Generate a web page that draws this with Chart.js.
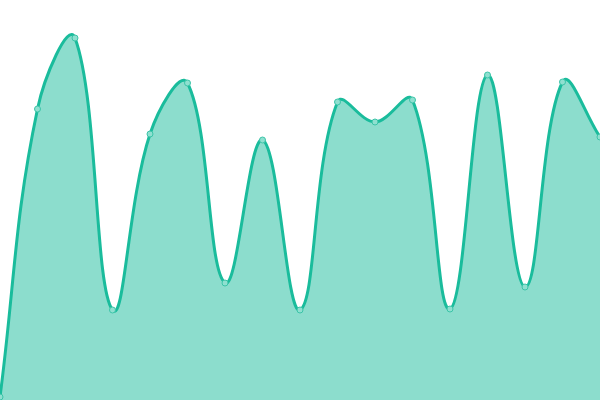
<!DOCTYPE html>
<html>
<head>
<meta charset="utf-8">
<script src="https://cdn.jsdelivr.net/npm/chart.js@4"></script>
<style>
html,body{margin:0;padding:0;background:#fff;}
#wrap{width:600px;height:400px;}
</style>
</head>
<body>
<div id="wrap"><canvas id="c"></canvas></div>
<script>
const categories = ["1","2","3","4","5","6","7","8","9","10","11","12","13","14","15","16","17"];
const seriesValues = [3, 291, 362, 90, 266, 317, 117, 260, 90, 298, 278, 300, 91, 325, 113, 318, 263];

new Chart(document.getElementById('c'), {
  type: 'line',
  data: {
    labels: categories,
    datasets: [{
      data: seriesValues,
      fill: true,
      borderColor: '#1abc9c',
      backgroundColor: 'rgba(26,188,156,0.5)',
      borderWidth: 3,
      tension: 0.4,
      pointRadius: 3,
      pointBorderWidth: 1,
      pointBackgroundColor: '#8fe0d0',
      pointBorderColor: '#3cc4a8'
    }]
  },
  options: {
    responsive: true,
    maintainAspectRatio: false,
    animation: false,
    layout: { padding: 0, autoPadding: false },
    plugins: { legend: { display: false }, tooltip: { enabled: false } },
    scales: {
      x: { display: false },
      y: { display: false, min: 0, max: 400 }
    }
  }
});
</script>
</body>
</html>
